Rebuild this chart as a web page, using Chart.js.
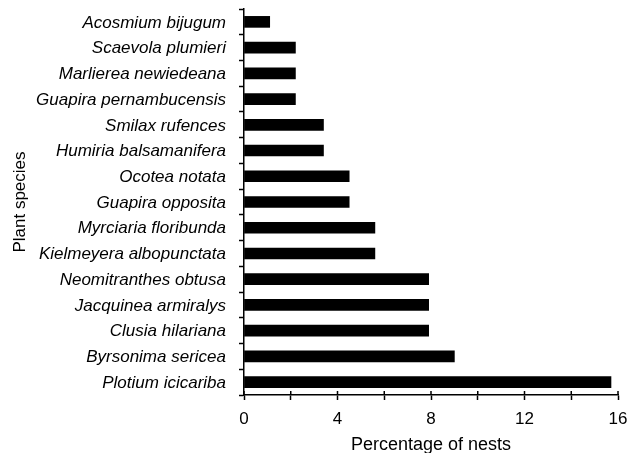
<!DOCTYPE html>
<html>
<head>
<meta charset="utf-8">
<title>Plant species used for nesting</title>
<script src="https://cdn.jsdelivr.net/npm/chart.js@4/dist/chart.umd.min.js"></script>
<style>
  html, body { margin: 0; padding: 0; background: #fff; }
  canvas { display: block; }
</style>
</head>
<body>
<canvas id="chart" width="627" height="453"></canvas>
<script>
// Plant species, listed from top to bottom of the chart
const species = [
  'Acosmium bijugum',
  'Scaevola plumieri',
  'Marlierea newiedeana',
  'Guapira pernambucensis',
  'Smilax rufences',
  'Humiria balsamanifera',
  'Ocotea notata',
  'Guapira opposita',
  'Myrciaria floribunda',
  'Kielmeyera albopunctata',
  'Neomitranthes obtusa',
  'Jacquinea armiralys',
  'Clusia hilariana',
  'Byrsonima sericea',
  'Plotium icicariba'
];

// Percentage of nests found on each species
const nestPercent = [1.1, 2.2, 2.2, 2.2, 3.4, 3.4, 4.5, 4.5, 5.6, 5.6, 7.9, 7.9, 7.9, 9.0, 15.7];

// Axis range and the ticks that carry a label
const xMin = 0;
const xMax = 16;
const xStep = 2;
const xLabelEvery = 4;

const FONT = "'Liberation Sans', Arial, Helvetica, sans-serif";

// Draws the upper half of each x tick so the marks cross the axis line
const crossTicks = {
  id: 'crossTicks',
  afterDraw(chart) {
    const xs = chart.scales.x;
    const ctx = chart.ctx;
    const y0 = chart.chartArea.bottom;
    ctx.save();
    ctx.strokeStyle = '#000';
    ctx.lineWidth = 1.5;
    ctx.beginPath();
    xs.ticks.forEach(t => {
      const px = xs.getPixelForValue(t.value);
      ctx.moveTo(px, y0 - 4);
      ctx.lineTo(px, y0);
    });
    ctx.stroke();
    ctx.restore();
  }
};

new Chart(document.getElementById('chart'), {
  type: 'bar',
  data: {
    labels: species,
    datasets: [{
      data: nestPercent,
      backgroundColor: '#000',
      borderWidth: 0,
      barThickness: 11
    }]
  },
  options: {
    indexAxis: 'y',
    responsive: false,
    animation: false,
    devicePixelRatio: 1,
    layout: { padding: { top: 9, right: 9, left: 0, bottom: 0 } },
    plugins: {
      legend: { display: false },
      tooltip: { enabled: false }
    },
    scales: {
      x: {
        min: xMin,
        max: xMax,
        border: { display: true, color: '#000', width: 1.5 },
        grid: {
          drawOnChartArea: false,
          drawTicks: true,
          tickLength: 5,
          tickColor: '#000',
          tickWidth: 1.5
        },
        ticks: {
          stepSize: xStep,
          autoSkip: false,
          maxRotation: 0,
          padding: 9,
          color: '#000',
          font: { family: FONT, size: 17 },
          callback: v => (v % xLabelEvery === 0 ? String(v) : '')
        },
        title: {
          display: true,
          text: 'Percentage of nests',
          color: '#000',
          font: { family: FONT, size: 18, lineHeight: 0.85 },
          padding: { top: 0, bottom: 0 }
        },
        afterFit(scale) {
          scale.height = 58;
          scale.paddingLeft = 0;
          scale.paddingRight = 0;
        }
      },
      y: {
        offset: true,
        border: { display: true, color: '#000', width: 1.5 },
        grid: {
          offset: true,
          drawOnChartArea: false,
          drawTicks: true,
          tickLength: 5,
          tickColor: '#000',
          tickWidth: 1.5
        },
        ticks: {
          autoSkip: false,
          padding: 13,
          labelOffset: 1,
          color: '#000',
          font: { family: FONT, size: 17, style: 'italic' }
        },
        title: {
          display: true,
          text: 'Plant species',
          color: '#000',
          font: { family: FONT, size: 17 },
          padding: { top: 10, bottom: 0 }
        },
        afterFit(scale) {
          scale.width = 244;
          scale.paddingTop = 0;
          scale.paddingBottom = 0;
        }
      }
    }
  },
  plugins: [crossTicks]
});
</script>
</body>
</html>
